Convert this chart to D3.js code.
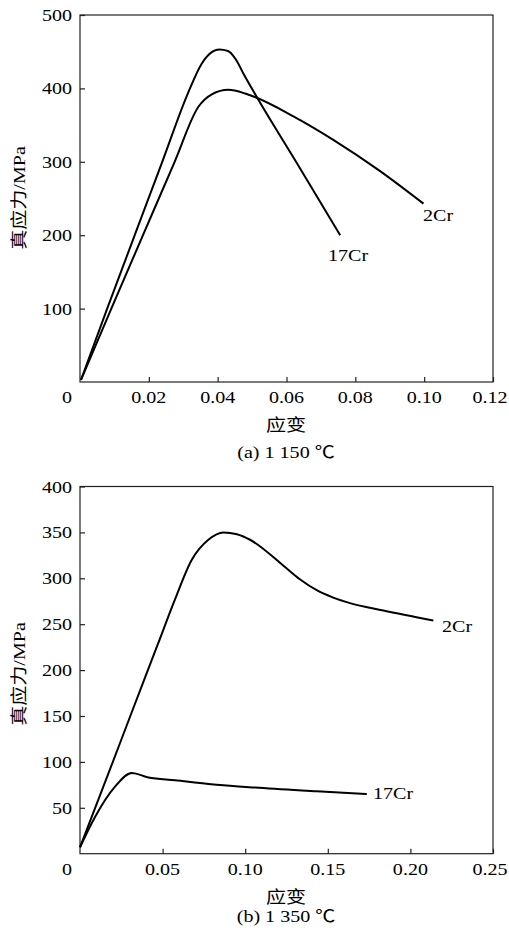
<!DOCTYPE html>
<html lang="zh">
<head>
<meta charset="UTF-8">
<title>真应力-应变曲线</title>
<style>
  body { margin: 0; background: #fff; }
  .frame { fill: none; stroke: #222; stroke-width: 1.2px; }
  .tick line { stroke: #222; stroke-width: 1.2px; }
  .curve { fill: none; stroke: #000; stroke-width: 2px; stroke-linejoin: round; }
  text { font-family: "Liberation Serif", "Noto Sans CJK SC", serif; font-size: 17px; fill: #000; }
</style>
<script src="https://d3js.org/d3.v7.min.js"></script>
</head>
<body>
<script>
// panel (a) 1 150 ℃
const aXTicks = [0.02, 0.04, 0.06, 0.08, 0.10, 0.12];
const aYTicks = [100, 200, 300, 400, 500];
const a17Cr = [[0.0003, 3], [0.0079, 100], [0.0159, 200], [0.0239, 300], [0.0315, 395], [0.0354, 434],
  [0.0385, 450], [0.0405, 453], [0.043, 451], [0.0452, 440], [0.0475, 420], [0.0509, 392],
  [0.0633, 296], [0.0756, 200]];
const a2Cr = [[0.0003, 3], [0.0091, 100], [0.0183, 200], [0.0275, 300], [0.0344, 375], [0.0383, 392],
  [0.0431, 398], [0.048, 393], [0.0504, 389], [0.062, 362], [0.0736, 330], [0.087, 288], [0.0998, 243]];

// panel (b) 1 350 ℃
const bXTicks = [0.05, 0.10, 0.15, 0.20, 0.25];
const bYTicks = [50, 100, 150, 200, 250, 300, 350, 400];
const b17Cr = [[0, 7], [0.0091, 40], [0.0212, 73], [0.0313, 88], [0.0414, 83], [0.0575, 80],
  [0.0777, 76], [0.1059, 72], [0.1433, 68], [0.1736, 65]];
const b2Cr = [[0, 7], [0.0186, 94], [0.0311, 153], [0.0473, 229], [0.0575, 277], [0.0676, 320],
  [0.0777, 342], [0.0868, 350], [0.095, 348], [0.1029, 342], [0.123, 314], [0.1331, 299],
  [0.1433, 287], [0.1533, 279], [0.1634, 273], [0.1836, 265], [0.2139, 254]];

const W = 509, H = 934, sx = 1.18;

const svg = d3.select("body").append("svg")
  .attr("width", W).attr("height", H);

function stretched(sel, x, y) {
  return sel.attr("transform", `translate(${x},${y}) scale(${sx},1)`);
}

function panel(o) {
  const x = d3.scaleLinear().domain(o.xDomain).range([80, 493]);
  const y = d3.scaleLinear().domain(o.yDomain).range(o.yRange);
  const g = svg.append("g");

  g.append("rect").attr("class", "frame")
    .attr("x", x.range()[0]).attr("y", y.range()[1])
    .attr("width", x.range()[1] - x.range()[0])
    .attr("height", y.range()[0] - y.range()[1]);

  // inward ticks
  g.append("g").attr("transform", `translate(0,${y.range()[0]})`)
    .call(d3.axisBottom(x).tickValues(o.xTicks).tickSize(-5).tickFormat(""))
    .call(s => s.select(".domain").remove());
  g.append("g").attr("transform", `translate(${x.range()[0]},0)`)
    .call(d3.axisLeft(y).tickValues(o.yTicks).tickSize(-5).tickFormat(""))
    .call(s => s.select(".domain").remove());

  o.xTicks.forEach((t, i) => {
    // last label pulled in a little so it stays inside the page
    const px = i === o.xTicks.length - 1 ? x(t) - 3 : x(t);
    stretched(g.append("text"), px, y.range()[0] + 21)
      .attr("text-anchor", "middle").text(o.xFmt(t));
  });
  o.yTicks.forEach(t => {
    stretched(g.append("text"), 72, y(t) + 6)
      .attr("text-anchor", "end").text(t);
  });
  stretched(g.append("text"), 67, y.range()[0] + 21)
    .attr("text-anchor", "middle").text("0");

  const line = d3.line().x(d => x(d[0])).y(d => y(d[1])).curve(d3.curveMonotoneX);
  o.series.forEach(s => {
    g.append("path").attr("class", "curve").attr("d", line(s.data));
    stretched(g.append("text"), s.lx, s.ly).text(s.name);
  });

  stretched(g.append("text"), 286, y.range()[0] + 49)
    .attr("text-anchor", "middle").text("应变");
  stretched(g.append("text"), 286, y.range()[0] + o.capDy)
    .attr("text-anchor", "middle").text(o.caption);

  g.append("text")
    .attr("transform", `translate(25,${o.yLabelY}) rotate(-90) scale(${sx},1)`)
    .attr("text-anchor", "middle").text("真应力/MPa");
}

panel({
  xDomain: [0, 0.12], yDomain: [0, 500], yRange: [382, 15],
  xTicks: aXTicks, yTicks: aYTicks, xFmt: d3.format(".2f"),
  series: [
    { name: "17Cr", data: a17Cr, lx: 328, ly: 261 },
    { name: "2Cr", data: a2Cr, lx: 423, ly: 221 }
  ],
  caption: "(a) 1 150 ℃", capDy: 76, yLabelY: 198
});

panel({
  xDomain: [0, 0.25], yDomain: [0, 400], yRange: [853.7, 486.5],
  xTicks: bXTicks, yTicks: bYTicks, xFmt: d3.format(".2f"),
  series: [
    { name: "17Cr", data: b17Cr, lx: 373, ly: 799 },
    { name: "2Cr", data: b2Cr, lx: 442, ly: 632 }
  ],
  caption: "(b) 1 350 ℃", capDy: 68, yLabelY: 674
});
</script>
</body>
</html>
